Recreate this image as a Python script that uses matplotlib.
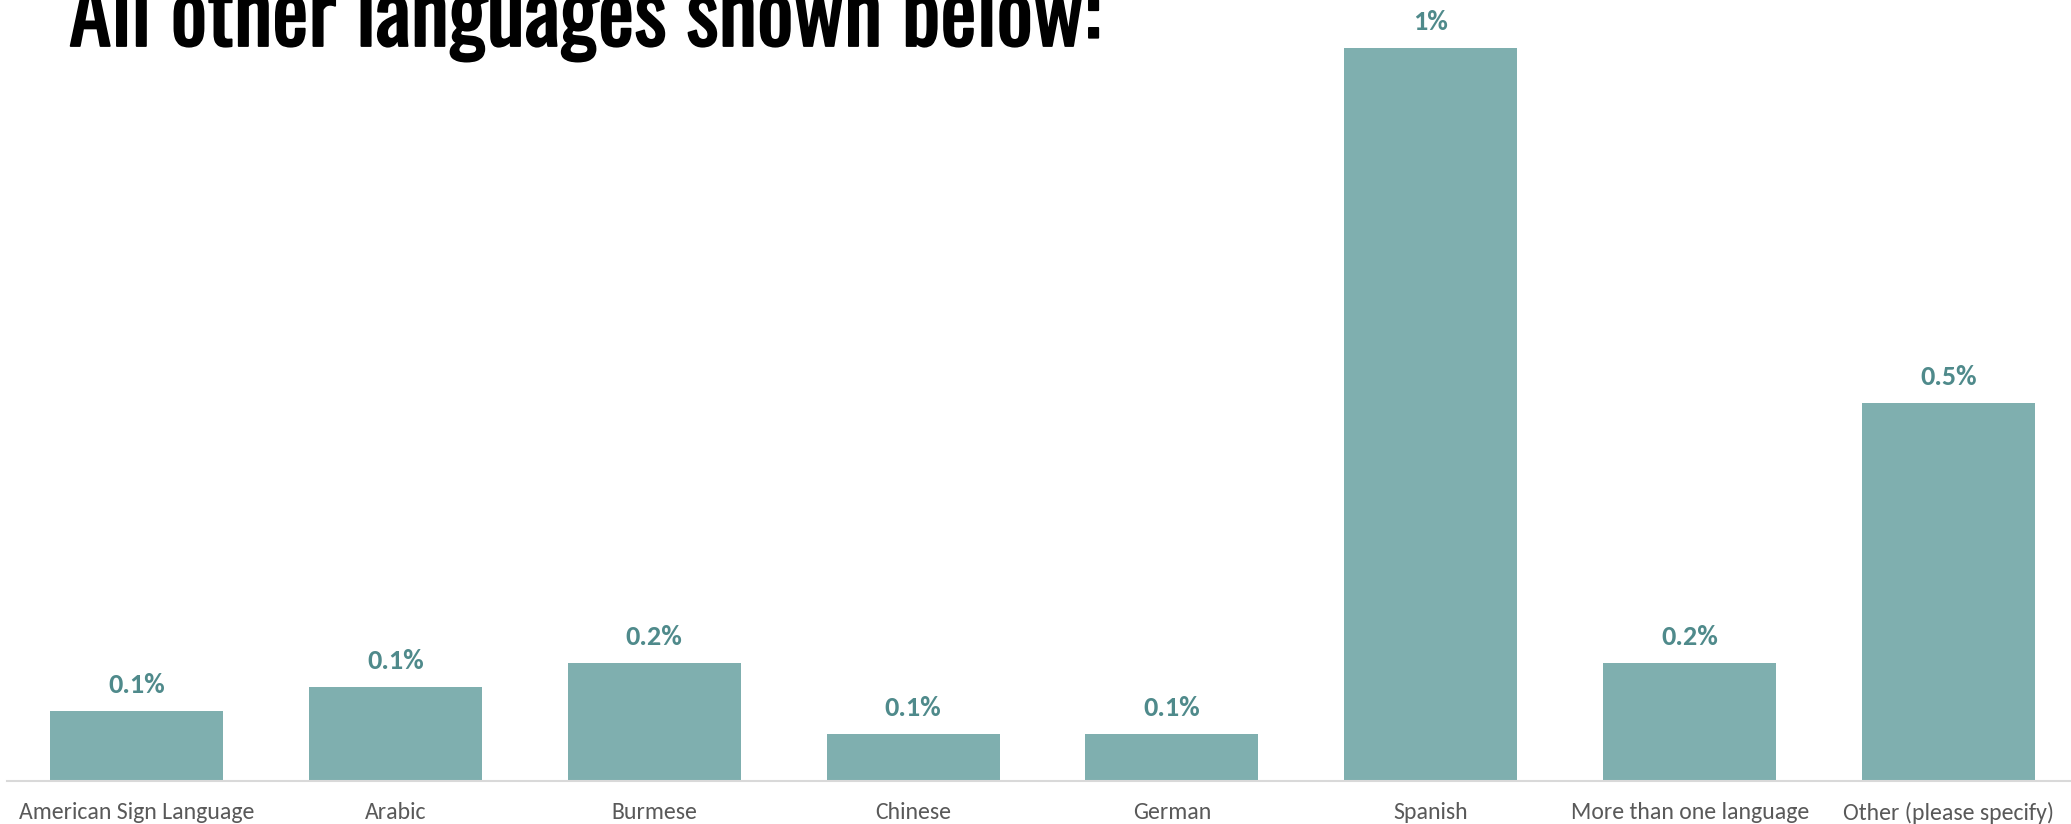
import matplotlib.pyplot as plt
import matplotlib.patheffects as pe
import numpy as np

# Languages and their share of respondents (%)
languages = ['American Sign Language', 'Arabic', 'Burmese', 'Chinese', 'German',
             'Spanish', 'More than one language', 'Other (please specify)']
shares = [0.096, 0.128, 0.161, 0.064, 0.064, 1.0, 0.161, 0.516]

bar_color = '#7FAFAF'
label_color = '#4F8A8B'
body_font = ['Carlito', 'Lato', 'DejaVu Sans']
title_font = ['Oswald', 'Antonio', 'DejaVu Sans']

def fmt_pct(v):
    s = '{0:.1f}'.format(v).rstrip('0').rstrip('.')
    return s + '%'

def fit_width(txt, width_px, renderer):
    # scale a text's font size so it spans width_px pixels
    w = txt.get_window_extent(renderer).width
    txt.set_fontsize(txt.get_fontsize() * width_px / w)

fig = plt.figure(figsize=(20.71, 8.24), dpi=100)
ax = fig.add_axes([7 / 2071, 43 / 824, 2071 / 2071, 781 / 824])
renderer = fig.canvas.get_renderer()

x = np.arange(len(languages))
bars = ax.bar(x, shares, width=0.668, color=bar_color)

labels = []
for b, v in zip(bars, shares):
    t = ax.annotate(fmt_pct(v), (b.get_x() + b.get_width() / 2, v),
                    xytext=(0, 14), textcoords='offset pixels',
                    ha='center', va='bottom', fontsize=16, fontweight='bold',
                    color=label_color, family=body_font)
    labels.append(t)
fit_width(labels[0], 57, renderer)
for t in labels[1:]:
    t.set_fontsize(labels[0].get_fontsize())

ax.set_xlim(-0.5, 7.5)
ax.set_ylim(0, 781 / 733)
ax.set_xticks(x)
ticks = ax.set_xticklabels(languages, fontsize=15, color='#595959', family=body_font)
fit_width(ticks[0], 235, renderer)
for t in ticks[1:]:
    t.set_fontsize(ticks[0].get_fontsize())
ax.tick_params(axis='x', length=0, pad=15)
ax.set_yticks([])
for side in ['top', 'right', 'left']:
    ax.spines[side].set_visible(False)
ax.spines['bottom'].set_color('#D9D9D9')
ax.spines['bottom'].set_linewidth(1.5)
ax.patch.set_alpha(0)

title = fig.text(69 / 2071, 1 - 46 / 824, 'All other languages shown below:',
                 ha='left', va='baseline', fontsize=60, fontweight='bold',
                 family=title_font, color='black',
                 path_effects=[pe.withStroke(linewidth=1.3, foreground='black')])
fit_width(title, 1032, renderer)

fig.savefig('out.png', dpi=100)
